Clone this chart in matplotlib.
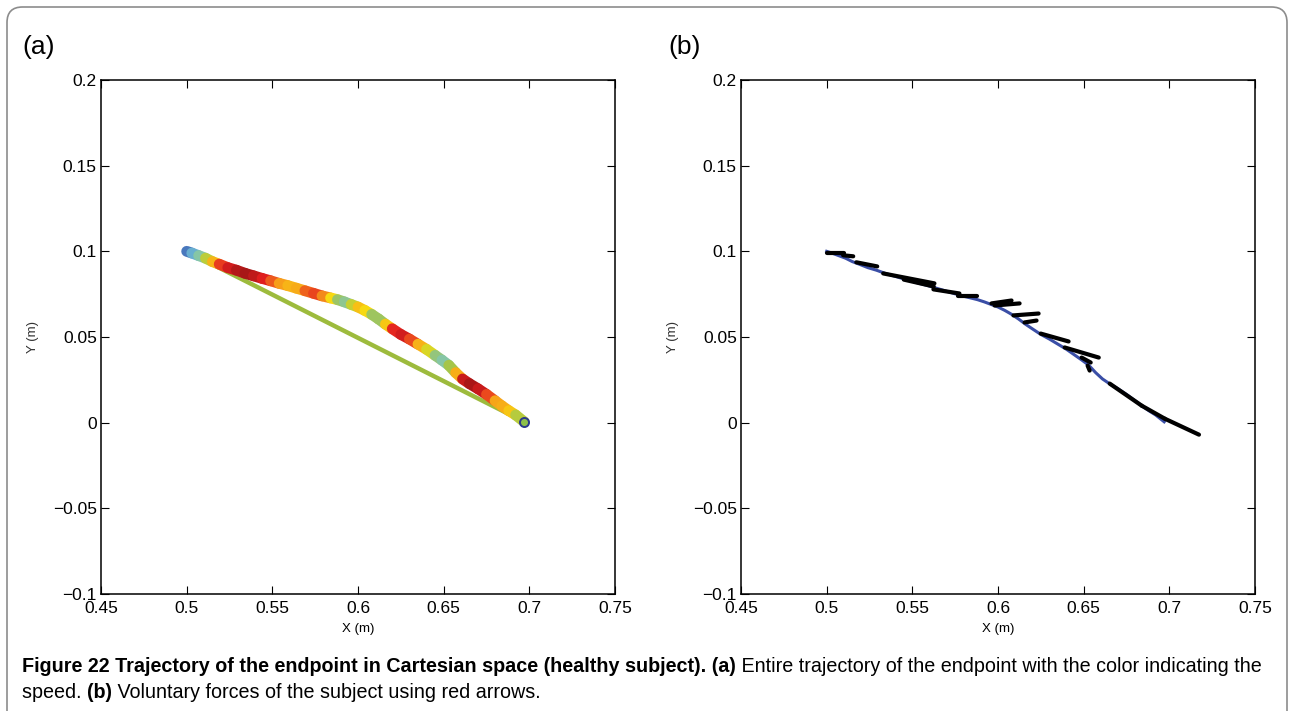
import numpy as np
import matplotlib
matplotlib.use('Agg')
import matplotlib.pyplot as plt
from matplotlib.collections import LineCollection
from matplotlib.colors import LinearSegmentedColormap
from matplotlib.patches import FancyBboxPatch

# endpoint trajectory (m) and speed (normalised)
traj_x = [0.500, 0.503, 0.507, 0.511, 0.515, 0.519, 0.524, 0.529, 0.534, 0.539,
          0.544, 0.549, 0.554, 0.559, 0.564, 0.569, 0.574, 0.579, 0.584, 0.588,
          0.592, 0.596, 0.600, 0.604, 0.608, 0.612, 0.616, 0.620, 0.625, 0.630,
          0.635, 0.640, 0.645, 0.649, 0.653, 0.657, 0.661, 0.665, 0.670, 0.675,
          0.680, 0.684, 0.688, 0.692, 0.697]
traj_y = [0.1000, 0.0990, 0.0975, 0.0960, 0.0940, 0.0925, 0.0905, 0.0890, 0.0872, 0.0857,
          0.0842, 0.0828, 0.0813, 0.0800, 0.0785, 0.0770, 0.0755, 0.0740, 0.0728, 0.0718,
          0.0705, 0.0690, 0.0675, 0.0655, 0.0632, 0.0605, 0.0575, 0.0548, 0.0515, 0.0488,
          0.0458, 0.0428, 0.0393, 0.0365, 0.0335, 0.0292, 0.0255, 0.0228, 0.0198, 0.0165,
          0.0128, 0.0098, 0.0070, 0.0045, 0.0005]
speed = [0.05, 0.20, 0.33, 0.45, 0.62, 0.80, 0.88, 0.92, 0.98, 0.96,
         0.90, 0.85, 0.78, 0.72, 0.70, 0.76, 0.85, 0.82, 0.72, 0.55,
         0.38, 0.45, 0.65, 0.72, 0.55, 0.40, 0.55, 0.80, 0.92, 0.88,
         0.78, 0.65, 0.50, 0.38, 0.40, 0.60, 0.85, 0.98, 0.95, 0.88,
         0.78, 0.70, 0.75, 0.60, 0.45]

# voluntary force segments in panel (b): start and end points
force_x0 = [0.5003, 0.5096, 0.5173, 0.533, 0.545, 0.5623, 0.5769, 0.5962, 0.598, 0.609,
            0.6155, 0.6249, 0.6389, 0.6488, 0.6523, 0.6652, 0.6839, 0.6974]
force_y0 = [0.0988, 0.0977, 0.0936, 0.0871, 0.0835, 0.0778, 0.0737, 0.0696, 0.0684, 0.0626,
            0.0585, 0.0520, 0.0439, 0.0380, 0.0333, 0.0228, 0.0099, 0.0023]
force_x1 = [0.5102, 0.5155, 0.5295, 0.5629, 0.5625, 0.5775, 0.5880, 0.6079, 0.6126, 0.6237,
            0.6225, 0.6412, 0.6588, 0.6541, 0.6535, 0.6839, 0.6974, 0.7173]
force_y1 = [0.0988, 0.0971, 0.0912, 0.0813, 0.0795, 0.0754, 0.0737, 0.0713, 0.0696, 0.0637,
            0.0596, 0.0474, 0.0380, 0.0351, 0.0304, 0.0099, 0.0023, -0.0070]

x_ticks = [0.45, 0.5, 0.55, 0.6, 0.65, 0.7, 0.75]
y_ticks = [-0.1, -0.05, 0, 0.05, 0.1, 0.15, 0.2]
x_labels = ['0.45', '0.5', '0.55', '0.6', '0.65', '0.7', '0.75']
y_labels = ['\u22120.1', '\u22120.05', '0', '0.05', '0.1', '0.15', '0.2']

speed_cmap = LinearSegmentedColormap.from_list('speed', [
    (0.0, '#2c3590'), (0.2, '#5a9fd8'), (0.35, '#7cc6c6'), (0.5, '#a5c54a'),
    (0.62, '#f7e010'), (0.75, '#f7a11a'), (0.87, '#e41f1f'), (1.0, '#981515')])

plt.rcParams['font.family'] = ['Liberation Sans', 'DejaVu Sans']

fig = plt.figure(figsize=(12.94, 7.11), dpi=100)

# rounded frame around the whole figure
frame = FancyBboxPatch((7 / 1294, -0.05), 1280 / 1294, (711 - 7) / 711 + 0.05,
                       boxstyle='round,pad=0,rounding_size=0.012',
                       transform=fig.transFigure, fill=False,
                       edgecolor='#8c8c8c', lw=1.2, mutation_aspect=1294 / 711)
fig.patches.append(frame)

ax_a = fig.add_axes([101 / 1294, 117 / 711, 514 / 1294, 514 / 711])
ax_b = fig.add_axes([741 / 1294, 117 / 711, 514 / 1294, 514 / 711])


def style_axes(ax, ylab_x):
    ax.set_xlim(0.45, 0.75)
    ax.set_ylim(-0.1, 0.2)
    ax.set_xticks(x_ticks)
    ax.set_xticklabels(x_labels)
    ax.set_yticks(y_ticks)
    ax.set_yticklabels(y_labels)
    ax.tick_params(direction='in', length=6, width=0.8, top=True, right=True,
                   labelsize=12.5, pad=3)
    ax.tick_params(axis='x', pad=5)
    for sp in ax.spines.values():
        sp.set_linewidth(1.1)
    ax.set_xlabel('X (m)', fontsize=9.5, labelpad=5)
    ax.set_ylabel('Y (m)', fontsize=9.5, color='#333333')
    ax.yaxis.set_label_coords(ylab_x, 0.5)


# (a) trajectory coloured by speed
ax_a.plot([traj_x[0], traj_x[-1]], [traj_y[0], traj_y[-1]], color='#9dbb3d', lw=3.2,
          solid_capstyle='butt', zorder=2)
pts = np.column_stack([traj_x, traj_y]).reshape(-1, 1, 2)
segs = np.concatenate([pts[:-1], pts[1:]], axis=1)
seg_speed = (np.array(speed[:-1]) + np.array(speed[1:])) / 2
lc = LineCollection(segs, cmap=speed_cmap, linewidths=7.8, capstyle='round', zorder=3)
lc.set_array(seg_speed)
lc.set_clim(0, 1)
ax_a.add_collection(lc)
ax_a.plot(traj_x[-1], traj_y[-1], 'o', ms=6.5, mfc='#8cc04a', mec='#2b3a8c', mew=1.4, zorder=4)
style_axes(ax_a, -0.12)

# (b) trajectory with voluntary forces
ax_b.plot(traj_x, traj_y, color='#3a4ea6', lw=2.2, zorder=2)
for x0, y0, x1, y1 in zip(force_x0, force_y0, force_x1, force_y1):
    ax_b.plot([x0, x1], [y0, y1], color='black', lw=3, solid_capstyle='round', zorder=3)
style_axes(ax_b, -0.12)

fig.text(22 / 1294, 1 - 47 / 711, '(a)', fontsize=19, va='center')
fig.text(668 / 1294, 1 - 47 / 711, '(b)', fontsize=19, va='center')

# caption with bold and regular runs, sized so line 1 spans ~1240 px
runs1 = [('Figure 22 Trajectory of the endpoint in Cartesian space (healthy subject). (a)', 'bold'),
         (' Entire trajectory of the endpoint with the color indicating the', 'normal')]
runs2 = [('speed. ', 'normal'), ('(b)', 'bold'),
         (' Voluntary forces of the subject using red arrows.', 'normal')]
renderer = fig.canvas.get_renderer()
probe = 0
for txt, wt in runs1:
    t = fig.text(0, 0, txt, fontsize=12, fontweight=wt)
    probe += t.get_window_extent(renderer).width
    t.remove()
cap_size = 12 * 1240 / probe
for runs, ypix in [(runs1, 667), (runs2, 692)]:
    xpix = 22
    for txt, wt in runs:
        t = fig.text(xpix / 1294, 1 - ypix / 711, txt, fontsize=cap_size, fontweight=wt,
                     va='center', ha='left')
        xpix += t.get_window_extent(renderer).width

fig.savefig('out.png', dpi=100)
